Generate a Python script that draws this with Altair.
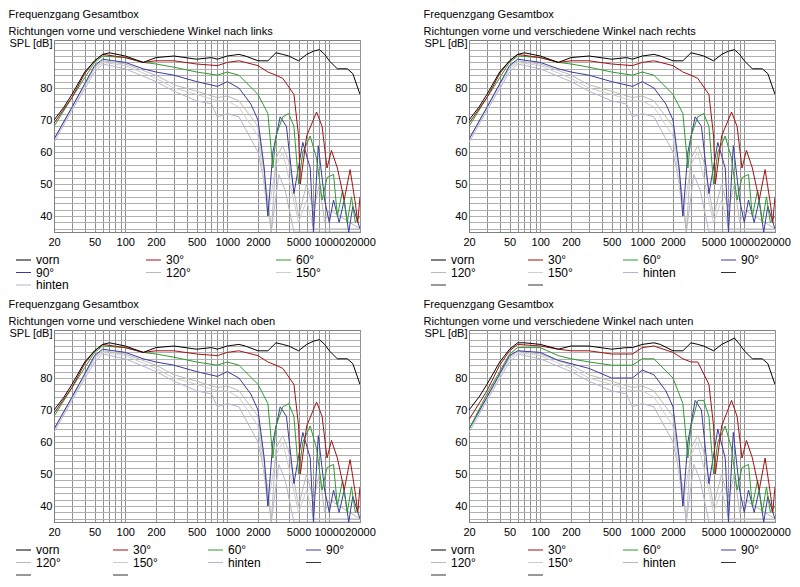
import altair as alt
import pandas as pd

SERIES = ["hinten", "150°", "120°", "90°", "60°", "30°", "vorn"]
COLORS = ["#b4b4d2", "#cdcdcd", "#b9b9b9", "#3a3aa0", "#2f9a2f", "#a51010", "#000000"]

# --- links (also used for rechts / oben) ---
L_vorn_f = [20,25,30,40,50,60,70,100,150,200,300,500,700,800,1000,1300,1500,2000,2500,3000,3500,4000,5000,6000,7000,8000,9000,10000,12000,15000,17000,20000]
L_vorn_v = [70,74,78,85,88.5,90.5,91,90,88,89.5,90,89,89.5,89,90,90.5,90,88.5,88.5,91,90.5,90,88.5,90.5,91.5,92,90.5,88.5,86,86,84.5,78]
L_30_f = [20,30,40,50,60,100,150,200,300,500,800,1000,1300,2000,2500,3000,3500,4500,5000,5200,6000,7500,8500,9500,10500,12000,14000,16000,18000,19000,20000]
L_30_v = [69,77,84.5,88.5,90.5,89.5,88,88.5,88.5,87.5,87,88,88.5,87,85,84,83,78,65,50,65,72.5,68,55,60.5,55,45,54.5,44,38,46]
L_60_f = [20,30,50,60,100,150,200,300,500,800,1000,1300,2000,2500,2800,3000,3500,4000,4500,5000,5500,6500,7500,8500,9500,11000,12000,13500,15000,16500,18000,20000]
L_60_v = [68,77,88,90,89.5,88,87.5,86.5,85,84,85,84,78,72,55,65,71,72,68,50,60,65,58,45,52,53,40,48,38,46,38,40]
L_90_f = [20,30,50,60,100,150,200,300,500,800,1000,1300,1700,2000,2300,2500,2800,3300,3800,4500,5500,6500,7000,7800,9000,10000,11000,12500,14000,15500,17000,20000]
L_90_v = [64,74,87,89,88,86,85,84,82,80.5,82,80,75,70,55,40,60,71,68,47,63,55,35,62,45,38,45,38,45,35,43,36]
L_120_f = [20,30,50,60,100,200,300,500,800,1000,1300,2000,2500,2700,3000,3500,4000,5000,6000,7000,8000,9000,10000,20000]
L_120_v = [64,74,86.5,88.5,87.5,84,81,79,77,77.5,76,68,45,35,58,62,57,40,50,42,50,38,42,36]
L_150_f = [20,50,60,100,200,300,500,800,1000,1300,2000,2500,3000,3500,4000,5000,6000,7000,20000]
L_150_v = [64,86,88,87,83,80,78,76,76,74,65,40,56,60,52,38,45,36,36]
L_hi_f = [20,30,50,60,100,200,300,500,700,800,1000,1300,2000,2500,2700,3200,3700,4500,20000]
L_hi_v = [63,73,85,87.5,86,82,79,76,75,71,72,71,60,45,35,53,48,35,35]

# --- unten ---
U_vorn_v = [70,74,78,85,89,91,91,90.5,89,90,90,89,89.5,89.5,90.5,91,90.5,88.5,88.5,91,90.5,90,88.5,90.5,91.5,92.5,90.5,88.5,86,86,84.5,78]
U_30_v = [67,76,84,88.5,90.5,90,89,88.5,88.5,87.5,87.5,89.5,90,88,86,85,85,78,65,50,65,73,68,55,60.5,55,45,55,44,38,46]
U_60_v = [64,75,87.5,89.5,89.5,87,86,85,84,84,86,86,80,72,55,65,73,73,68,50,60,65,58,45,52,53,40,48,38,46,38,40]
U_90_v = [64,74,87,88.5,88,85.5,84.5,83,80,80,82.5,81,76,71,55,40,60,73,70,47,64,55,35,63,45,38,45,38,45,35,43,36]

panels = [
    ("links", 3, [L_hi_v, L_150_v, L_120_v, L_90_v, L_60_v, L_30_v, L_vorn_v]),
    ("rechts", 4, [L_hi_v, L_150_v, L_120_v, L_90_v, L_60_v, L_30_v, L_vorn_v]),
    ("oben", 4, [L_hi_v, L_150_v, L_120_v, L_90_v, L_60_v, L_30_v, L_vorn_v]),
    ("unten", 4, [L_hi_v, L_150_v, L_120_v, U_90_v, U_60_v, U_30_v, U_vorn_v]),
]
FREQS = [L_hi_f, L_150_f, L_120_f, L_90_f, L_60_f, L_30_f, L_vorn_f]

xgrid = [m * 10**e for e in range(1, 5) for m in range(1, 10) if 20 <= m * 10**e <= 20000]
LEG3 = [("vorn", "#000000", 0, 0), ("30°", "#a51010", 1, 0), ("60°", "#2f9a2f", 2, 0),
        ("90°", "#3a3aa0", 0, 1), ("120°", "#b9b9b9", 1, 1), ("150°", "#cdcdcd", 2, 1),
        ("hinten", "#b4b4d2", 0, 2)]
LEG4 = [("vorn", "#000000", 0, 0), ("30°", "#a51010", 1, 0), ("60°", "#2f9a2f", 2, 0), ("90°", "#3a3aa0", 3, 0),
        ("120°", "#b9b9b9", 0, 1), ("150°", "#cdcdcd", 1, 1), ("hinten", "#b4b4d2", 2, 1), ("", "#333333", 3, 1),
        ("", "#333333", 0, 2), ("", "#333333", 1, 2)]

def panel(name, ncol, vals):
    rows = []
    for s, f, v in zip(SERIES, FREQS, vals):
        for a, b in zip(f, v):
            rows.append({"s": s, "f": a, "db": b})
    df = pd.DataFrame(rows)
    lines = alt.Chart(df).mark_line(strokeWidth=1, clip=True).encode(
        x=alt.X("f:Q", scale=alt.Scale(type="log", domain=[20, 20000], nice=False),
                axis=alt.Axis(values=xgrid, title=None, labelExpr="indexof([20,50,100,200,500,1000,2000,5000,10000,20000], datum.value) >= 0 ? datum.value : ''",
                              tickSize=0, labelFontSize=11, labelColor="#000", gridColor="#909090", domainColor="#808080",
                              labelPadding=4, labelOverlap=False, labelFlush=False, labelBound=False)),
        y=alt.Y("db:Q", scale=alt.Scale(domain=[35, 95], nice=False),
                axis=alt.Axis(values=list(range(36, 95, 2)), title=None, tickSize=0, labelFontSize=11, labelColor="#000",
                              labelExpr="datum.value == 94 ? 'SPL [dB]' : (datum.value % 10 == 0 && datum.value < 90 ? datum.value : '')",
                              labelOverlap=False, labelFlush=False, labelBound=False,
                              gridColor="#b0b0b0", domainColor="#808080")),
        color=alt.Color("s:N", scale=alt.Scale(domain=SERIES, range=COLORS), legend=None),
        order=alt.Order("idx:Q"),
    ).transform_calculate(idx="indexof(%s, datum.s)" % str(SERIES))
    leg = LEG3 if ncol == 3 else LEG4
    colx = [-38, 92, 222] if ncol == 3 else [-38, 59, 154, 252]
    ldf = pd.DataFrame([{"lab": l, "c": c, "px": colx[ci], "py": 220 + ri * 12.5} for l, c, ci, ri in leg])
    dash = alt.Chart(ldf).mark_rule(strokeWidth=1).encode(
        x=alt.X("px:Q", scale=None), x2=alt.X2("px2:Q"), y=alt.Y("py:Q", scale=None),
        color=alt.Color("c:N", scale=None)).transform_calculate(px2="datum.px + 15")
    txt = alt.Chart(ldf).mark_text(align="left", baseline="middle", fontSize=12, dx=20).encode(
        x=alt.X("px:Q", scale=None), y=alt.Y("py:Q", scale=None), text="lab:N")
    return alt.layer(lines, dash, txt).properties(
        width=306, height=192,
        title=alt.TitleParams(["Frequenzgang Gesamtbox", "Richtungen vorne und verschiedene Winkel nach " + name],
                              anchor="start", fontSize=11, fontWeight="normal", lineHeight=17, offset=0, font="Arial"))

ps = [panel(*p) for p in panels]
chart = alt.vconcat(alt.hconcat(ps[0], ps[1], spacing=47), alt.hconcat(ps[2], ps[3], spacing=47), spacing=6,
                    padding=0).configure(font="Arial").configure_view(stroke="#808080").configure_axis(labelFont="Arial")
chart.save("out.html", embed_options={"renderer": "svg", "actions": False})
